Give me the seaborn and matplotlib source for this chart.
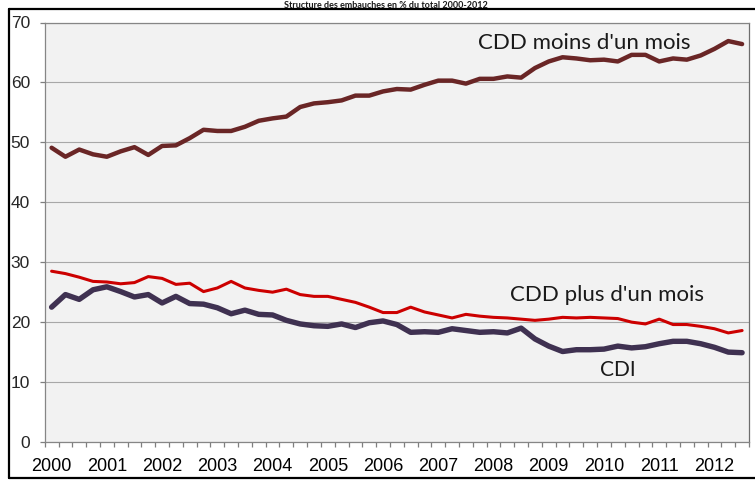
import matplotlib
matplotlib.use("Agg")
import matplotlib.pyplot as plt
import seaborn as sns
import pandas as pd
import numpy as np
from matplotlib.lines import Line2D

# ---------------- data (quarterly, 2000Q1 .. 2012Q3) ----------------
years = [str(y) for y in range(2000, 2013)]
cdd_moins = [49.1, 47.6, 48.8, 48.0, 47.6, 48.5, 49.2, 47.9, 49.4, 49.5,
             50.7, 52.1, 51.9, 51.9, 52.6, 53.6, 54.0, 54.3, 55.9, 56.5,
             56.7, 57.0, 57.8, 57.8, 58.5, 58.9, 58.8, 59.6, 60.3, 60.3,
             59.8, 60.6, 60.6, 61.0, 60.8, 62.4, 63.5, 64.2, 64.0, 63.7,
             63.8, 63.5, 64.6, 64.6, 63.5, 64.0, 63.8, 64.5, 65.6, 66.9, 66.4]
cdd_plus = [28.5, 28.1, 27.5, 26.8, 26.7, 26.4, 26.6, 27.6, 27.3, 26.3,
            26.5, 25.1, 25.7, 26.8, 25.7, 25.3, 25.0, 25.5, 24.6, 24.3,
            24.3, 23.8, 23.3, 22.5, 21.6, 21.6, 22.5, 21.7, 21.2, 20.7,
            21.3, 21.0, 20.8, 20.7, 20.5, 20.3, 20.5, 20.8, 20.7, 20.8,
            20.7, 20.6, 20.0, 19.7, 20.5, 19.6, 19.6, 19.3, 18.9, 18.2, 18.6]
cdi = [22.5, 24.6, 23.8, 25.4, 25.9, 25.1, 24.2, 24.6, 23.2, 24.3,
       23.1, 23.0, 22.4, 21.4, 22.0, 21.3, 21.2, 20.3, 19.7, 19.4,
       19.3, 19.7, 19.1, 19.9, 20.2, 19.6, 18.3, 18.4, 18.3, 18.9,
       18.6, 18.3, 18.4, 18.2, 19.0, 17.2, 16.0, 15.1, 15.4, 15.4,
       15.5, 16.0, 15.7, 15.9, 16.4, 16.8, 16.8, 16.4, 15.8, 15.0, 14.9]
series_names = ["CDD moins d'un mois", "CDD plus d'un mois", "CDI"]
title = "Structure des embauches en % du total 2000-2012"

n = len(cdd_moins)
df = pd.DataFrame({
    "t": list(range(n)) * 3,
    "valeur": cdd_moins + cdd_plus + cdi,
    "serie": [series_names[0]] * n + [series_names[1]] * n + [series_names[2]] * n,
})

colors = {series_names[0]: "#6a2626", series_names[1]: "#cc0000", series_names[2]: "#3f3151"}
widths = {series_names[0]: 3.2, series_names[1]: 2.2, series_names[2]: 3.9}

sns.set_theme(style="white")
plt.rcParams["font.family"] = ["Liberation Sans Narrow", "Liberation Sans", "DejaVu Sans"]

W, H = 755, 480
fig = plt.figure(figsize=(W / 100, H / 100), dpi=100)
fig.patch.set_facecolor("white")
x0, x1, y0, y1 = 44.7, 749.0, 22.5, 442.0
ax = fig.add_axes([x0 / W, 1 - y1 / H, (x1 - x0) / W, (y1 - y0) / H])
ax.set_facecolor("#f2f2f2")

for name in series_names:
    sub = df[df["serie"] == name]
    sns.lineplot(data=sub, x="t", y="valeur", ax=ax, color=colors[name],
                 linewidth=widths[name], legend=False, zorder=3)

ax.set_xlim(-0.5, n - 0.5)
ax.set_ylim(0, 70)
ax.set_xlabel("")
ax.set_ylabel("")

ax.set_xticks(range(0, n, 4))
ax.set_xticklabels(years, fontsize=13)
ax.set_xticks(np.arange(-0.5, n, 1), minor=True)
ax.tick_params(axis="x", which="major", length=0, pad=11.5, colors="black")
ax.tick_params(axis="x", which="minor", length=3.8, width=0.9, color="#7f7f7f",
               direction="out", bottom=True)

ax.set_yticks(range(0, 71, 10))
ax.set_yticklabels([str(v) for v in range(0, 71, 10)], fontsize=12.5)
ax.tick_params(axis="y", which="major", length=3.6, width=0.9, color="#7f7f7f",
               direction="out", pad=7, left=True)

ax.yaxis.grid(True, color="#a8a8a8", linewidth=0.8)
ax.set_axisbelow(True)
for side, sp in ax.spines.items():
    sp.set_visible(True)
    sp.set_color("#868686")
    sp.set_linewidth(0.9)
ax.spines["right"].set_color("#6e6e6e")

# series labels
lab_font = ["Lato", "DejaVu Sans"]
ax.text(38.55, 66.6, series_names[0], fontsize=16, family=lab_font,
        ha="center", va="center", color="#1a1a1a", zorder=4)
ax.text(40.2, 24.5, series_names[1], fontsize=16, family=lab_font,
        ha="center", va="center", color="#1a1a1a", zorder=4)
ax.text(41.0, 12.0, series_names[2], fontsize=15, family=lab_font,
        ha="center", va="center", color="#1a1a1a", zorder=4)

# title (in the reference it sits at the very top edge)
fig.text(386 / W, 1 - 0.5 / H, title, ha="center", va="top", fontsize=6.5,
         fontweight="bold", family=lab_font, color="#1a1a1a")

# outer black frame
for xs, ys in [([9, 9], [9, 478]), ([9, W], [9, 9]), ([9, W], [478, 478])]:
    fig.add_artist(Line2D([x / W for x in xs], [1 - y / H for y in ys],
                          transform=fig.transFigure, color="black", linewidth=1.6))

fig.savefig("out.png", dpi=100, facecolor="white")
